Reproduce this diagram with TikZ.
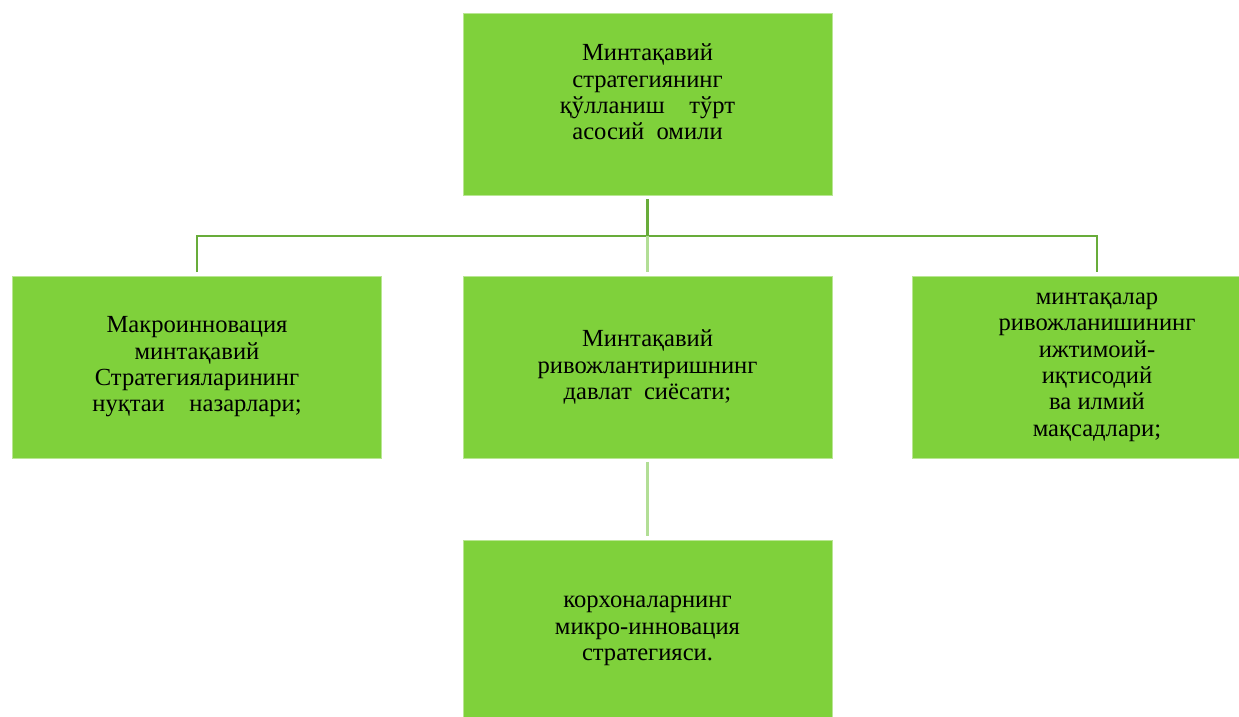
\documentclass[tikz,border=0pt]{standalone}
\usepackage{fontspec}
\setmainfont{Liberation Serif}

\definecolor{boxgreen}{RGB}{127,209,59}
\definecolor{linegreen}{RGB}{104,172,58}
\definecolor{palegreen}{RGB}{178,222,150}

\tikzset{
  factorbox/.style={rectangle, fill=boxgreen, draw=boxgreen!55!white, line width=0.5pt,
    minimum width=7.38cm, minimum height=3.64cm, align=center, inner sep=2pt,
    font=\fontsize{14}{15}\selectfont},
  link/.style={draw=linegreen, line width=1.2pt},
  palelink/.style={draw=palegreen, line width=1.4pt}
}

\begin{document}
\begin{tikzpicture}[x=0.02cm, y=-0.02cm]
      \useasboundingbox[fill=white] (0,0) rectangle (1239,716);
      \begin{scope}
        \clip (0,0) rectangle (1239,716);

        % boxes
        \node[factorbox, text depth=0.5cm] (top) at (647.5,104.5)
          {Минтақавий\\стратегиянинг\\қўлланиш\quad тўрт\\асосий\enspace омили};
        \node[factorbox] (macro) at (197,367)
          {Макроинновация\\минтақавий\\Стратегияларининг\\нуқтаи\quad назарлари;};
        \node[factorbox] (policy) at (647.5,367)
          {Минтақавий\\ривожлантиришнинг\\давлат\enspace сиёсати;};
        \node[factorbox] (goals) at (1097,367)
          {минтақалар\\ривожланишининг\\ижтимоий-\\иқтисодий\\ва илмий\\мақсадлари;};
        \node[factorbox] (micro) at (647.5,631)
          {корхоналарнинг\\микро-инновация\\стратегияси.};

        % connectors
        \coordinate (bar) at (647.5,236);
        \draw[link] ([yshift=-2pt]top.south) -- (bar);
        \draw[link] ([yshift=2pt]macro.north) |- (bar) -| ([yshift=2pt]goals.north);
        \draw[palelink] (bar) -- ([yshift=2pt]policy.north);
        \draw[palelink] ([yshift=-2pt]policy.south) -- ([yshift=2pt]micro.north);
      \end{scope}
    \end{tikzpicture}
\end{document}
